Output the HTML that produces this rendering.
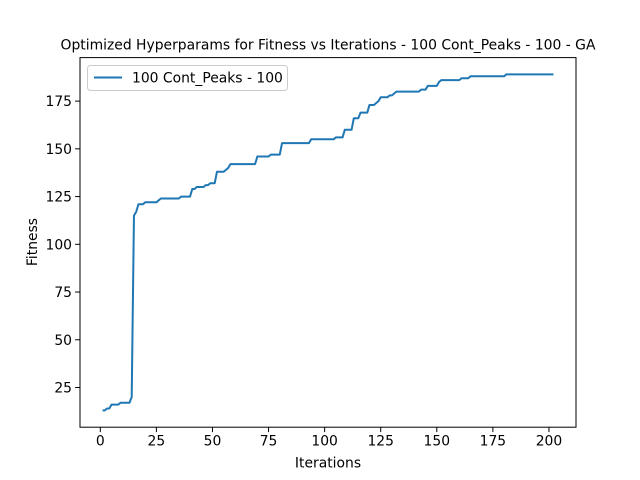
<!DOCTYPE html>
<html><head><meta charset="utf-8"><style>
body{margin:0;background:#fff}
svg{display:block;font-family:"DejaVu Sans","Liberation Sans",sans-serif}
</style></head><body>
<svg id="chart" width="640" height="480">
<rect x="0" y="0" width="640" height="480" fill="#fff"/>
<text x="328" y="49.5" font-size="13.9" text-anchor="middle">Optimized Hyperparams for Fitness vs Iterations - 100 Cont_Peaks - 100 - GA</text>
<g id="ticks"></g>
<path id="series" fill="none" stroke="#1f77b4" stroke-width="2" stroke-linejoin="round"/>
<rect x="80" y="57.6" width="496" height="369.6" fill="none" stroke="#000" stroke-width="1"/>
<text x="328" y="467.5" font-size="13.9" text-anchor="middle">Iterations</text>
<text x="37" y="242" font-size="13.9" text-anchor="middle" transform="rotate(-90 37 242)">Fitness</text>
<g>
<rect x="87.5" y="65.5" width="200" height="25" rx="3" fill="#fff" stroke="#ccc" stroke-width="1"/>
<line x1="94" y1="77.5" x2="122" y2="77.5" stroke="#1f77b4" stroke-width="2"/>
<text x="132" y="82.5" font-size="13.9">100 Cont_Peaks - 100</text>
</g>
</svg>
<script>
const changeIters=[1,3,5,9,14,15,16,17,20,26,27,36,41,43,47,49,52,56,57,58,70,76,81,94,105,109,113,116,120,123,124,125,129,131,132,143,146,151,152,161,165,181];
const changeVals=[13,14,16,17,20,115,117,121,122,123,124,125,129,130,131,132,138,139,140,142,146,147,153,155,156,160,166,169,173,174,175,177,178,179,180,181,183,185,186,187,188,189];
const lastIter=202;
const xTicks=[0,25,50,75,100,125,150,175,200];
const yTicks=[25,50,75,100,125,150,175];
const X0=80,X1=576,Y0=427.2,Y1=57.6;
const xMin=-9.05,xMax=212.05,yMin=4.2,yMax=197.8;
const sx=v=>X0+(v-xMin)/(xMax-xMin)*(X1-X0);
const sy=v=>Y0-(v-yMin)/(yMax-yMin)*(Y0-Y1);
const ns="http://www.w3.org/2000/svg";
const g=document.getElementById('ticks');
function mk(t,a){const e=document.createElementNS(ns,t);for(const k in a)e.setAttribute(k,a[k]);return e;}
xTicks.forEach(t=>{
 const l=mk('line',{x1:sx(t),x2:sx(t),y1:Y0,y2:Y0+4.9,stroke:'#000','stroke-width':1});
 
 
 g.appendChild(l);
 const tx=mk('text',{x:sx(t),y:Y0+18.5,'font-size':13.9,'text-anchor':'middle'});
 tx.textContent=t;
 
 
 g.appendChild(tx);
});
yTicks.forEach(t=>{
 const l=mk('line',{x1:X0-4.9,x2:X0,y1:sy(t),y2:sy(t),stroke:'#000','stroke-width':1});
 
 
 g.appendChild(l);
 const tx=mk('text',{x:X0-8,y:sy(t)+5,'font-size':13.9,'text-anchor':'end'});
 tx.textContent=t;
 
 
 g.appendChild(tx);
});
let d='',ci=0,v=changeVals[0];
for(let i=1;i<=lastIter;i++){
 while(ci<changeIters.length&&changeIters[ci]<=i){v=changeVals[ci];ci++;}
 d+=(i===1?'M':'L')+sx(i).toFixed(2)+','+sy(v).toFixed(2);
}
document.getElementById('series').setAttribute('d',d);
</script>
</body></html>
